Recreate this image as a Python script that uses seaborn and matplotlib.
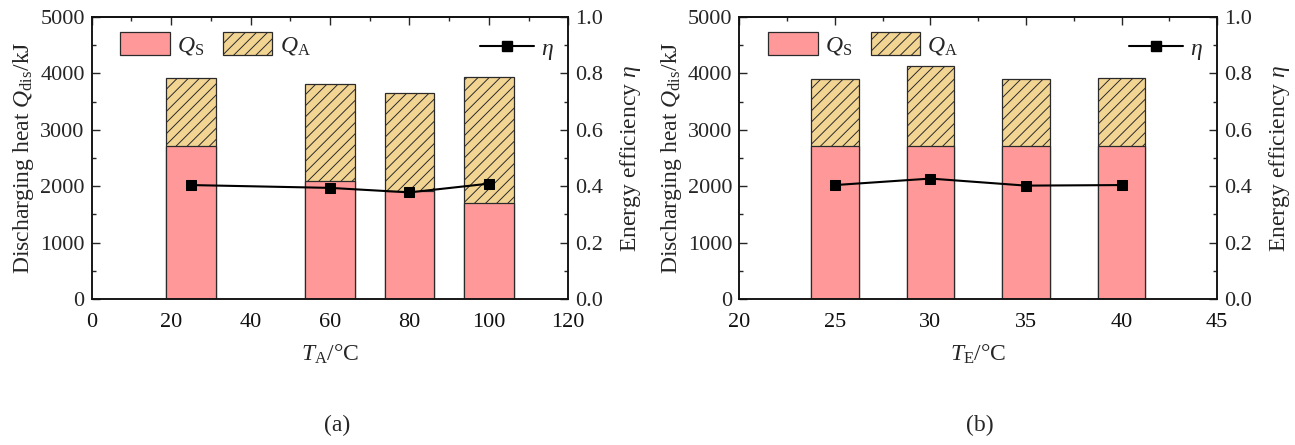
import matplotlib
matplotlib.use("Agg")
import matplotlib.pyplot as plt
from matplotlib.patches import Patch
from matplotlib.lines import Line2D
from matplotlib.ticker import MultipleLocator
import seaborn as sns
import numpy as np
import pandas as pd

# ---- data ----
TA = [25, 60, 80, 100]
QS_a = [2720, 2100, 1920, 1710]
QTOT_a = [3912, 3812, 3652, 3942]
ETA_a = [0.404, 0.394, 0.378, 0.409]

TE = [25, 30, 35, 40]
QS_b = [2720, 2720, 2720, 2720]
QTOT_b = [3907, 4125, 3901, 3912]
ETA_b = [0.404, 0.427, 0.402, 0.404]

sns.set_theme(style="white")
plt.rcParams['font.family'] = ['Liberation Serif', 'DejaVu Serif']
plt.rcParams['mathtext.fontset'] = 'custom'
plt.rcParams['mathtext.rm'] = 'Liberation Serif'
plt.rcParams['mathtext.it'] = 'Liberation Serif:italic'
plt.rcParams['mathtext.bf'] = 'Liberation Serif:bold'
plt.rcParams['hatch.linewidth'] = 0.7
plt.rcParams['hatch.color'] = '#333333'

FS = 16
PINK = '#FF9999'
TAN = '#F3D593'
EDGE = '#2a2a2a'
HATCH = '///'

fig = plt.figure(figsize=(12.95, 4.45), dpi=100)


def panel(rect, x, qs, qtot, eta, width, xlim, xmaj, xmin, xlabel, cap, capx):
    ax = fig.add_axes(rect)
    df = pd.DataFrame({'x': x, 'qs': qs, 'qtot': qtot, 'eta': eta})
    sns.barplot(data=df, x='x', y='qtot', native_scale=True, width=width,
                color=TAN, saturation=1, edgecolor=EDGE, linewidth=0.9,
                hatch=HATCH, ax=ax, errorbar=None)
    sns.barplot(data=df, x='x', y='qs', native_scale=True, width=width,
                color=PINK, saturation=1, edgecolor=EDGE, linewidth=0.9,
                ax=ax, errorbar=None)
    ax.set_xlim(*xlim)
    ax.set_ylim(0, 5000)
    ax.xaxis.set_major_locator(MultipleLocator(xmaj))
    ax.xaxis.set_minor_locator(MultipleLocator(xmin))
    ax.yaxis.set_major_locator(MultipleLocator(1000))
    ax.yaxis.set_minor_locator(MultipleLocator(500))
    ax.tick_params(axis='x', which='major', direction='out', length=6, width=1,
                   labelsize=FS, pad=4, colors='#111111')
    ax.tick_params(axis='x', which='minor', direction='out', length=3, width=1)
    ax.tick_params(axis='y', which='major', direction='in', length=6, width=1,
                   labelsize=FS, pad=5)
    ax.tick_params(axis='y', which='minor', direction='in', length=3, width=1)
    ax.set_xlabel(xlabel, fontsize=FS + 1, labelpad=8)
    ax.set_ylabel(r'Discharging heat $Q_\mathrm{dis}$/kJ', fontsize=FS + 1, labelpad=3)
    for s in ax.spines.values():
        s.set_color('#111111')
        s.set_linewidth(1.1)
    ax.grid(False)

    top = ax.secondary_xaxis('top')
    top.xaxis.set_major_locator(MultipleLocator(xmaj))
    top.xaxis.set_minor_locator(MultipleLocator(xmin))
    top.tick_params(axis='x', which='major', direction='in', length=6, width=1,
                    labeltop=False)
    top.tick_params(axis='x', which='minor', direction='in', length=3, width=1)
    top.spines['top'].set_linewidth(1.1)

    ax2 = ax.twinx()
    sns.lineplot(data=df, x='x', y='eta', color='black', marker='s',
                 markersize=7.5, markeredgecolor='black', linewidth=1.5, ax=ax2)
    ax2.set_ylim(0, 1.0)
    ax2.yaxis.set_major_locator(MultipleLocator(0.2))
    ax2.yaxis.set_minor_locator(MultipleLocator(0.1))
    ax2.yaxis.set_major_formatter(matplotlib.ticker.FormatStrFormatter('%.1f'))
    ax2.tick_params(axis='y', which='major', direction='in', length=6, width=1,
                    labelsize=FS, pad=5)
    ax2.tick_params(axis='y', which='minor', direction='in', length=3, width=1)
    ax2.set_ylabel(r'Energy efficiency $\eta$', fontsize=FS + 1, labelpad=11)
    ax2.grid(False)
    for s in ax2.spines.values():
        s.set_linewidth(1.1)
        s.set_color('#111111')

    h1 = [Patch(facecolor=PINK, edgecolor=EDGE, linewidth=0.9, label=r'$Q_\mathrm{S}$'),
          Patch(facecolor=TAN, edgecolor=EDGE, linewidth=0.9, hatch=HATCH,
                label=r'$Q_\mathrm{A}$')]
    leg1 = ax2.legend(handles=h1, loc='upper left', ncol=2, frameon=False,
                      fontsize=FS + 1, handlelength=2.1, handleheight=1.1,
                      handletextpad=0.3, columnspacing=0.8,
                      bbox_to_anchor=(0.03, 0.995), borderaxespad=0.2)
    ax2.add_artist(leg1)
    h2 = [Line2D([0], [0], color='black', marker='s', markersize=7.5, linewidth=1.5,
                 label=r'$\eta$')]
    ax2.legend(handles=h2, loc='upper right', frameon=False, fontsize=FS + 1,
               handlelength=2.3, handletextpad=0.3,
               bbox_to_anchor=(1.0, 0.975), borderaxespad=0.2)
    fig.text(capx, 0.045, cap, fontsize=FS + 1, ha='center', va='center')
    return ax


panel([0.0708, 0.328, 0.3680, 0.634], TA, QS_a, QTOT_a, ETA_a, 0.625,
      (0, 120), 20, 10, r'$T_\mathrm{A}$/°C', '(a)', 337 / 1295)
panel([0.5710, 0.328, 0.3688, 0.634], TE, QS_b, QTOT_b, ETA_b, 0.5,
      (20, 45), 5, 2.5, r'$T_\mathrm{E}$/°C', '(b)', 980 / 1295)

fig.savefig('out.png', dpi=100)
